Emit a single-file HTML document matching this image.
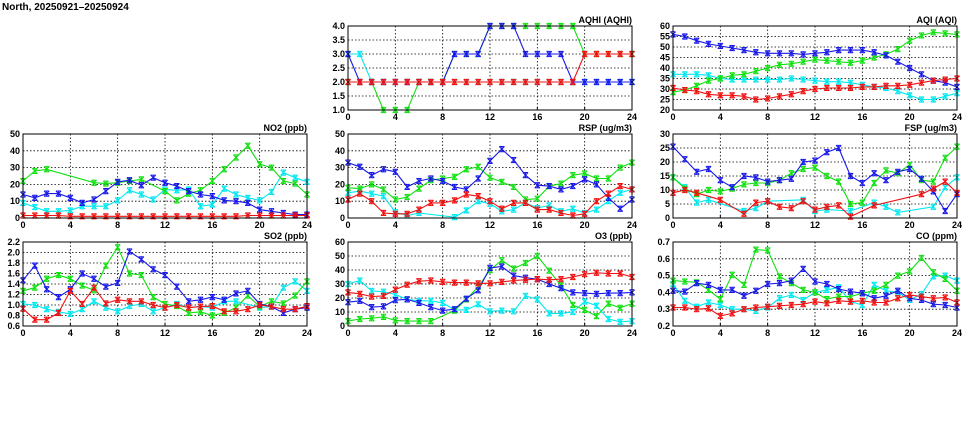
<!DOCTYPE html>
<html><head><meta charset="utf-8"><style>
body{margin:0;background:#fff;width:975px;height:447px;overflow:hidden}
svg{display:block;font-family:"Liberation Sans",sans-serif}
</style></head><body>
<svg id="chart" width="975" height="447" viewBox="0 0 975 447">
<text x="2" y="10" font-size="10" font-weight="bold">North, 20250921–20250924</text>
</svg>
<script>
const hours=[0,1,2,3,4,5,6,7,8,9,10,11,12,13,14,15,16,17,18,19,20,21,22,23,24];
const xTicks=[0,4,8,12,16,20,24];
const N=null;
// AQHI
const aqhiBlue=[3,2,2,2,2,2,2,2,2,3,3,3,4,4,4,3,3,3,3,2,2,2,2,2,2];
const aqhiCyan=[3,3,2,2,2,2,2,2,2,2,2,2,2,2,2,2,2,2,2,2,2,2,2,2,2];
const aqhiGreen=[2,2,2,1,1,1,2,2,2,3,3,3,4,4,4,4,4,4,4,4,3,3,3,3,3];
const aqhiRed=[2,2,2,2,2,2,2,2,2,2,2,2,2,2,2,2,2,2,2,2,3,3,3,3,3];
const aqhiTicks=[1.0,1.5,2.0,2.5,3.0,3.5,4.0];
// AQI
const aqiBlue=[56,55,53,51.5,50.5,49.5,48.5,47.5,47,47,47,46.5,47,47.5,48.5,48.5,48.5,47.5,46,43,40,37,34,33,31];
const aqiGreen=[28.5,29.5,31.5,34,35,36.5,37,38.5,40,41.5,42,43,44,43.5,43,42.5,43.5,45,46.5,49,53,55.5,57,56.5,56];
const aqiCyan=[37,37,37,36.5,35,34.5,34.5,34.5,34.5,34.5,35,34.5,34,33.5,33.5,33,32,31,30.5,29,27,25,25,26.5,28];
const aqiRed=[30.5,29.5,29,27.5,27,27,26.5,25,25.5,26.5,27.5,29,30,30.5,30.5,30.5,31,31,31.5,31.5,32,33,34,34.5,35];
const aqiTicks=[20,25,30,35,40,45,50,55,60];
// NO2
const no2Blue=[14,12,14.5,14.5,12,9,11,16,21.5,22.5,19.5,24,21,19,16,14,13,10.5,10,9,5,4,3,2,2];
const no2Green=[22,28,29,N,N,N,21,20.5,21,22,23,N,16,10.5,14.5,16.5,22,29,36,43,32,30,22,20.5,14];
const no2Cyan=[9,6.5,4,4,4.5,7,7,7,10.5,16.5,14,11,17,16.5,17,7,8,17.5,14,12,10.5,15.5,27,24,21.5];
const no2Red=[1.5,1.5,1.5,1.5,1,1,1,1,1,1,1,1,1,1,1,1,1,1,1,1.5,1.5,1.5,1.5,1.5,1.5];
const no2Ticks=[0,10,20,30,40,50];
// RSP
const rspBlue=[33,30.5,25.5,29,27.5,18.5,22,23.5,22,18.5,17,23.5,34,41,34.5,25.5,19.5,19,17,19,23,20,12,5.5,11];
const rspGreen=[18,17.5,20,17,11,12.5,17.5,22.5,23.5,24.5,29,30.5,24,21.5,18.5,11,11.5,19,20.5,25.5,26.5,23.5,23.5,30,33];
const rspCyan=[15,16,14.5,13,3.5,1.5,3,N,N,0.5,4.5,10,8.5,4,5,9,6,7.5,4,5.5,3,5,10,15,17];
const rspRed=[11,14.5,10,3,2.5,2.5,5,9,9,10.5,14,13,10,5.5,9,9,5,5,3,1.5,2.5,10,14.5,19,17];
const rspTicks=[0,10,20,30,40,50];
// FSP
const fspBlue=[25.5,21,16.5,17.5,13.5,11,15,14.5,13,13.5,14,20,20.5,23.5,25,15,12.5,16,13.5,16.5,17.5,14,9.5,2.5,8.5];
const fspGreen=[14.5,10.5,8.5,10,9.5,10.5,12,12.5,12.5,13.5,16,17.5,18,15,13,5,5.5,12.5,17,16,19,13.5,13,21.5,25.5];
const fspCyan=[14.5,11,5.5,6.5,N,N,2.5,3.5,6,N,N,6.5,2.5,3,N,2.5,N,5.5,4,2,N,N,4,11,14.5];
const fspRed=[9,10,9,N,6.5,N,1.5,5.5,6,4,3.5,6,3,4,4.5,0.5,N,4.5,N,N,N,8.5,10.5,13,9];
const fspTicks=[0,5,10,15,20,25,30];
// SO2
const so2Blue=[1.47,1.75,1.3,1.15,1.3,1.6,1.5,1.35,1.42,2.02,1.87,1.68,1.57,1.35,1.07,1.1,1.15,1.1,1.22,1.27,1.02,0.97,0.85,0.92,0.95];
const so2Green=[1.27,1.33,1.5,1.57,1.5,1.37,1.28,1.75,2.1,1.6,1.57,1.15,1.02,0.98,0.85,0.87,0.8,0.85,0.95,1.18,0.97,1.07,1.03,1.18,1.45];
const so2Cyan=[1.02,1.0,0.92,0.87,0.83,0.92,1.07,0.95,0.88,0.98,1.02,0.88,0.95,1.02,0.95,0.97,0.95,1.07,1.07,N,0.95,0.97,1.33,1.45,1.27];
const so2Red=[0.93,0.72,0.72,0.85,1.27,1.02,1.33,1.03,1.1,1.07,1.07,1.0,0.95,1.0,0.95,0.97,0.98,0.88,0.88,0.92,1.0,0.97,0.92,0.92,0.98];
const so2Ticks=[0.6,0.8,1.0,1.2,1.4,1.6,1.8,2.0,2.2];
// O3
const o3Blue=[17,18,13.5,14,18.5,19,16.5,13.5,11,12,19.5,25.5,41.5,42.5,36,34.5,33.5,30,27,24,23.5,23,23.5,23.5,24];
const o3Green=[3.5,5,5.5,6.5,4,3.5,3.5,3.5,N,11,19,28,40,47,41,45,50,39.5,29,15,11.5,7,16,13,16];
const o3Cyan=[30,32.5,25,24.5,22.5,19,18,18,16.5,11.5,11.5,15.5,10.5,11,10.5,21.5,19,9,9,10,17.5,14.5,5,3,3.5];
const o3Red=[24,23,21,21.5,26,29.5,32,32.5,31.5,31,31,30.5,30.5,31.5,32.5,33,33.5,33,33.5,35,37,38,37.5,37.5,35];
const o3Ticks=[0,10,20,30,40,50,60];
// CO
const coBlue=[0.41,0.405,0.455,0.445,0.415,0.415,0.38,0.41,0.45,0.455,0.47,0.54,0.465,0.45,0.42,0.405,0.395,0.365,0.38,0.41,0.365,0.355,0.33,0.325,0.31];
const coGreen=[0.47,0.465,0.46,0.415,0.36,0.505,0.445,0.655,0.65,0.495,0.455,0.415,0.4,0.36,0.375,0.375,0.395,0.41,0.445,0.5,0.525,0.605,0.52,0.48,0.41];
const coCyan=[0.45,0.35,0.315,0.34,0.325,0.3,0.3,0.29,0.31,0.365,0.385,0.355,0.4,0.415,0.43,0.345,0.325,0.445,0.41,0.4,0.355,0.39,0.495,0.5,0.47];
const coRed=[0.31,0.31,0.3,0.305,0.26,0.275,0.3,0.31,0.315,0.32,0.325,0.33,0.345,0.335,0.35,0.345,0.35,0.34,0.34,0.365,0.385,0.375,0.365,0.37,0.34];
const coTicks=[0.2,0.3,0.4,0.5,0.6,0.7];

const NS="http://www.w3.org/2000/svg";
const svg=document.getElementById('chart');
const COL={cyan:'#00e8f0',green:'#10e010',blue:'#1818e8',red:'#f01010'};
function mk(tag,attrs,parent){const e=document.createElementNS(NS,tag);for(const k in attrs)e.setAttribute(k,attrs[k]);parent.appendChild(e);return e;}
const W=284,H=84;
const panels=[
 {key:'aqhi',title:'AQHI (AQHI)',x:348,y:26,ticks:aqhiTicks,dec:1,s:{cyan:aqhiCyan,green:aqhiGreen,blue:aqhiBlue,red:aqhiRed}},
 {key:'aqi',title:'AQI (AQI)',x:673,y:26,ticks:aqiTicks,dec:0,s:{cyan:aqiCyan,green:aqiGreen,blue:aqiBlue,red:aqiRed}},
 {key:'no2',title:'NO2 (ppb)',x:23,y:134,ticks:no2Ticks,dec:0,s:{cyan:no2Cyan,green:no2Green,blue:no2Blue,red:no2Red}},
 {key:'rsp',title:'RSP (ug/m3)',x:348,y:134,ticks:rspTicks,dec:0,s:{cyan:rspCyan,green:rspGreen,blue:rspBlue,red:rspRed}},
 {key:'fsp',title:'FSP (ug/m3)',x:673,y:134,ticks:fspTicks,dec:0,s:{cyan:fspCyan,green:fspGreen,blue:fspBlue,red:fspRed}},
 {key:'so2',title:'SO2 (ppb)',x:23,y:242,ticks:so2Ticks,dec:1,s:{cyan:so2Cyan,green:so2Green,blue:so2Blue,red:so2Red}},
 {key:'o3',title:'O3 (ppb)',x:348,y:242,ticks:o3Ticks,dec:0,s:{cyan:o3Cyan,green:o3Green,blue:o3Blue,red:o3Red}},
 {key:'co',title:'CO (ppm)',x:673,y:242,ticks:coTicks,dec:1,s:{cyan:coCyan,green:coGreen,blue:coBlue,red:coRed}}
];
panels.forEach(p=>{
 const g=mk('g',{},svg);
 
 
 const ymin=p.ticks[0],ymax=p.ticks[p.ticks.length-1];
 const xs=h=>p.x+h/24*W;
 const ys=v=>p.y+H-(v-ymin)/(ymax-ymin)*H;
 mk('rect',{x:p.x,y:p.y,width:W,height:H,fill:'#fff'},g);
 const grid=mk('g',{stroke:'#000','stroke-width':0.8,'stroke-dasharray':'1.5,2'},g);
 
 
 xTicks.slice(1,-1).forEach(t=>mk('line',{x1:xs(t),x2:xs(t),y1:p.y,y2:p.y+H},grid));
 p.ticks.slice(1,-1).forEach(t=>mk('line',{x1:p.x,x2:p.x+W,y1:ys(t),y2:ys(t)},grid));
 const lab=mk('g',{'font-size':9,'font-weight':'bold',fill:'#000'},g);
 xTicks.forEach(t=>{const e=mk('text',{x:xs(t),y:p.y+H+10,'text-anchor':'middle'},lab);e.textContent=t;
  
  mk('line',{x1:xs(t),x2:xs(t),y1:p.y+H,y2:p.y+H-3,stroke:'#000'},g);});
 p.ticks.forEach(t=>{const e=mk('text',{x:p.x-3,y:ys(t)+3,'text-anchor':'end'},lab);e.textContent=t.toFixed(p.dec);
  });
 const tt=mk('text',{x:p.x+W,y:p.y-3,'text-anchor':'end','font-size':9,'font-weight':'bold'},g);
 tt.textContent=p.title;
 
 
 ['cyan','green','blue','red'].forEach(c=>{
  const arr=p.s[c];let d='';
  arr.forEach((v,i)=>{if(v===null)return;d+=(d?'L':'M')+xs(hours[i]).toFixed(1)+','+ys(v).toFixed(1);});
  const sg=mk('g',{},g);
  
  
  mk('path',{d:d,fill:'none',stroke:COL[c],'stroke-width':1.1},sg);
  arr.forEach((v,i)=>{if(v===null)return;const cx=xs(hours[i]),cy=ys(v),r=2.6;
   const m=mk('path',{d:`M${cx-r},${cy-r}L${cx+r},${cy+r}M${cx-r},${cy+r}L${cx+r},${cy-r}M${cx},${cy-r}L${cx},${cy+r}M${cx-r},${cy-r}L${cx+r},${cy-r}M${cx-r},${cy+r}L${cx+r},${cy+r}`,stroke:COL[c],'stroke-width':1,fill:'none'},sg);
   
   });
 });
 mk('rect',{x:p.x,y:p.y,width:W,height:H,fill:'none',stroke:'#000','stroke-width':1},g);
});
</script>
</body></html>
